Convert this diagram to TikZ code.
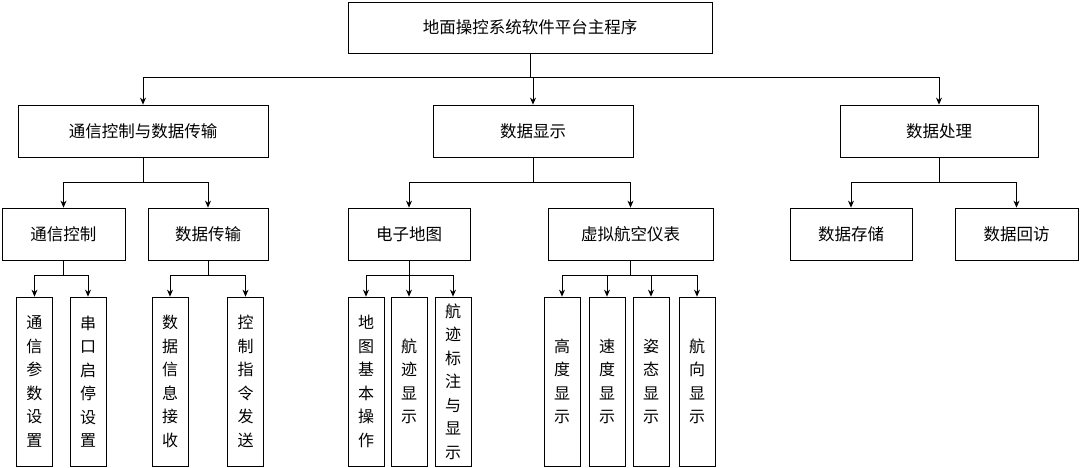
\documentclass[tikz,border=0pt]{standalone}
\usepackage{fontspec}
\setmainfont{Noto Sans CJK SC}
\usetikzlibrary{arrows.meta}
\begin{document}
\begin{tikzpicture}[x=1pt,y=-1pt,
  bx/.style={draw,line width=0.8pt,inner sep=0pt,font=\fontsize{16.5}{19}\selectfont},
  vbx/.style={draw,line width=0.8pt,inner sep=0pt,minimum width=36pt,minimum height=169pt,align=center,font=\fontsize{16}{23.5}\selectfont},
  ar/.style={-{Stealth[length=7pt,width=6pt]},line width=0.8pt},
  ln/.style={line width=0.8pt}]
\useasboundingbox (0,0) rectangle (1080,468);
\newcommand{\bxn}[6]{\node[bx,minimum width={#3-#2},minimum height={#5-#4}] (#1) at ({(#2+#3)/2},{(#4+#5)/2}) {#6};}
\bxn{root}{348}{712}{2}{53}{地面操控系统软件平台主程序}
\bxn{a}{18}{268}{105}{157}{通信控制与数据传输}
\bxn{b}{433}{633}{105}{157}{数据显示}
\bxn{c}{840}{1038}{105}{157}{数据处理}
\bxn{a1}{2}{125}{208}{260}{通信控制}
\bxn{a2}{148}{268}{208}{260}{数据传输}
\bxn{b1}{348}{470}{208}{260}{电子地图}
\bxn{b2}{548}{713}{208}{260}{虚拟航空仪表}
\bxn{c1}{790}{912}{208}{260}{数据存储}
\bxn{c2}{955}{1078}{208}{260}{数据回访}
\newcommand{\vb}[3]{\node[vbx] (#1) at (#2,381.5) {#3};}
\vb{a11}{34.5}{通\\信\\参\\数\\设\\置}
\vb{a12}{88}{串\\口\\启\\停\\设\\置}
\vb{a21}{170}{数\\据\\信\\息\\接\\收}
\vb{a22}{245.5}{控\\制\\指\\令\\发\\送}
\vb{b11}{366}{地\\图\\基\\本\\操\\作}
\vb{b12}{409}{航\\迹\\显\\示}
\vb{b13}{453}{航\\迹\\标\\注\\与\\显\\示}
\vb{b21}{562}{高\\度\\显\\示}
\vb{b22}{607}{速\\度\\显\\示}
\vb{b23}{651}{姿\\态\\显\\示}
\vb{b24}{697}{航\\向\\显\\示}
% level 1
\coordinate (r0) at (root.south|-0,77);
\draw[ln] (root.south) -- (r0);
\draw[ar] (r0) -| (a.north); \draw[ar] (r0) -| (c.north); \draw[ar] (b.north|-r0) -- (b.north);
% level 2
\foreach \p/\l/\r in {a/a1/a2,b/b1/b2,c/c1/c2}{
  \coordinate (\p0) at (\p.south|-0,182);
  \draw[ln] (\p.south) -- (\p0);
  \draw[ar] (\p0) -| (\l.north); \draw[ar] (\p0) -| (\r.north);}
% level 3
\coordinate (a10) at (a1.south|-0,275);
\draw[ln] (a1.south) -- (a10);
\draw[ar] (a10) -| (a11.north); \draw[ar] (a10) -| (a12.north);
\coordinate (a20) at (a2.south|-0,275);
\draw[ln] (a2.south) -- (a20);
\draw[ar] (a20) -| (a21.north); \draw[ar] (a20) -| (a22.north);
\coordinate (b10) at (b1.south|-0,275);
\draw[ln] (b1.south) -- (b10);
\draw[ar] (b10) -| (b11.north); \draw[ar] (b10) -| (b13.north); \draw[ar] (b10) -| (b12.north);
\coordinate (b20) at (b2.south|-0,275);
\draw[ln] (b2.south) -- (b20);
\draw[ar] (b20) -| (b21.north); \draw[ar] (b20) -| (b24.north);
\draw[ar] (b22.north|-b20) -- (b22.north); \draw[ar] (b23.north|-b20) -- (b23.north);
\end{tikzpicture}
\end{document}
